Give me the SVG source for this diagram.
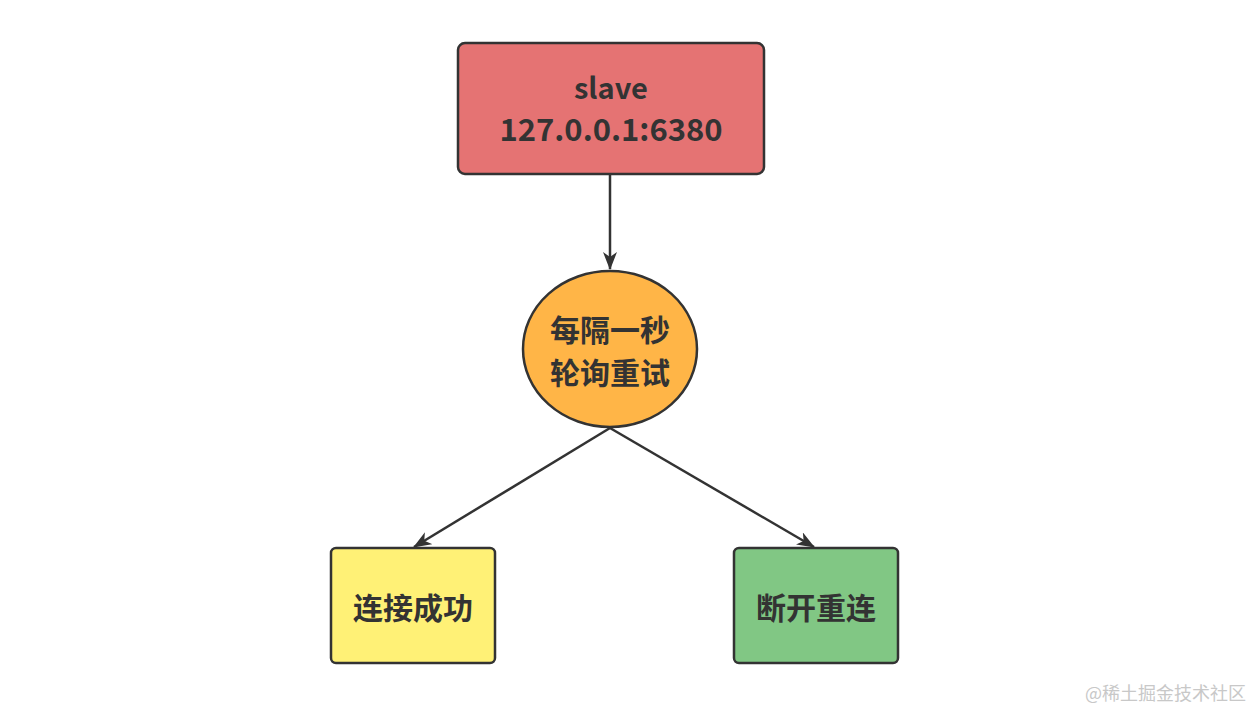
<svg xmlns="http://www.w3.org/2000/svg" width="1254" height="710" viewBox="0 0 1254 710">
<style>
.box{stroke:#333;stroke-width:2.5}
.t{font-family:"Noto Sans CJK SC","Noto Sans",sans-serif;font-weight:bold;fill:#333;text-anchor:middle}
.c{stroke:#333;stroke-width:2.5;fill:none}
</style>
<defs>
<marker id="ah" viewBox="0 0 18 14" refX="17" refY="7" markerWidth="18" markerHeight="14" markerUnits="userSpaceOnUse" orient="auto">
<path d="M0,0 L18,7 L0,14 L5,7 Z" fill="#333"/>
</marker>
</defs>
<rect width="1254" height="710" fill="#fff"/>
<g id="connectors">
<line class="c" x1="610" y1="175" x2="610" y2="269" marker-end="url(#ah)"/>
<line class="c" x1="610" y1="428" x2="414" y2="547" marker-end="url(#ah)"/>
<line class="c" x1="610" y1="428" x2="814" y2="547" marker-end="url(#ah)"/>
</g>
<g id="slave">
<rect class="box" x="458" y="43" width="306" height="131" rx="7" fill="#E57373"/>
<text class="t" x="611" y="99" font-size="29">slave</text>
<text class="t" x="611" y="141" font-size="31">127.0.0.1:6380</text>
</g>
<g id="retry">
<ellipse class="box" cx="610" cy="349" rx="87" ry="78" fill="#FFB547"/>
<text class="t" x="610" y="341" font-size="30">每隔一秒</text>
<text class="t" x="610" y="384" font-size="30">轮询重试</text>
</g>
<g id="success">
<rect class="box" x="331" y="548" width="164" height="115" rx="5" fill="#FFF176"/>
<text class="t" x="413" y="619" font-size="30">连接成功</text>
</g>
<g id="reconnect">
<rect class="box" x="734" y="548" width="164" height="115" rx="5" fill="#81C784"/>
<text class="t" x="816" y="619" font-size="30">断开重连</text>
</g>
<text x="1246" y="700" font-family="Noto Sans CJK SC,sans-serif" font-size="18" fill="#c8c8c8" text-anchor="end">@稀土掘金技术社区</text>
</svg>
